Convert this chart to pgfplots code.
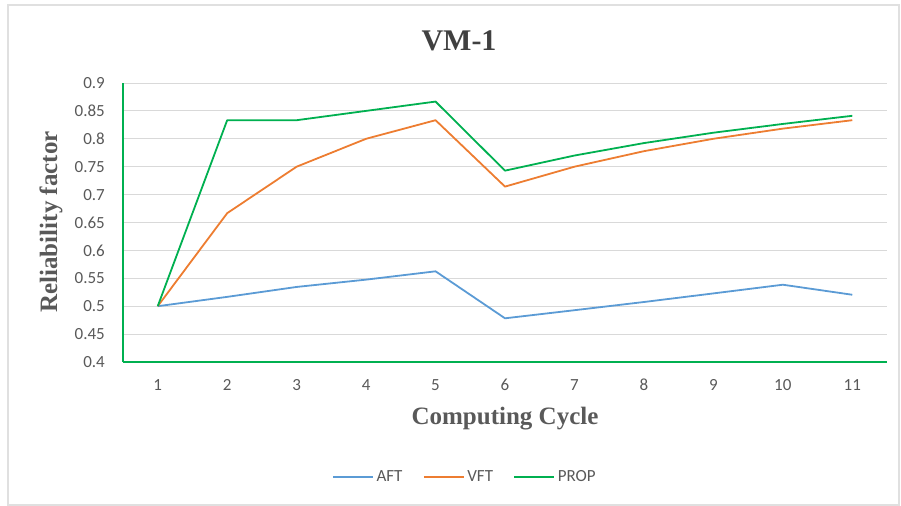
\documentclass[border=0pt]{standalone}
\usepackage{pgfplots}
\pgfplotsset{compat=1.18}
\usepackage{fontspec}
\setmainfont{Liberation Serif}
\newfontfamily\calibri{Carlito}
\definecolor{aft}{HTML}{5B9BD5}
\definecolor{vft}{HTML}{ED7D31}
\definecolor{prop}{HTML}{00B050}
\definecolor{txt}{HTML}{595959}
\definecolor{ttl}{HTML}{404040}
\definecolor{gridc}{HTML}{D9D9D9}
\begin{document}
\begin{tikzpicture}[x=1bp,y=1bp]
\path[use as bounding box] (0,0) rectangle (901,506);
\draw[black!12, line width=1.2bp] (8,1) rectangle (899,501);
\begin{axis}[
  at={(123bp,144bp)}, anchor=south west,
  scale only axis, width=764bp, height=279bp,
  xmin=0.5, xmax=11.5, ymin=0.4, ymax=0.9,
  xtick={1,2,3,4,5,6,7,8,9,10,11},
  xticklabels={1,2,3,4,5,6,7,8,9,10,11},
  ytick={0.4,0.45,0.5,0.55,0.6,0.65,0.7,0.75,0.8,0.85,0.9},
  yticklabels={0.4,0.45,0.5,0.55,0.6,0.65,0.7,0.75,0.8,0.85,0.9},
  /pgf/number format/assume math mode=true,
  axis x line*=bottom, axis y line*=left,
  axis line style={prop, line width=1.3bp, -},
  major tick length=0pt,
  ymajorgrids, grid style={gridc, line width=0.9bp},
  ticklabel style={font=\calibri\fontsize{17bp}{20bp}\selectfont, text=txt, inner sep=0pt},
  xticklabel style={anchor=center, yshift=-23bp},
  yticklabel style={anchor=east, xshift=-18bp},
  legend style={at={(axis description cs:0.448,-0.412)}, anchor=center, draw=none, fill=none,
    legend columns=3, font=\calibri\fontsize{17bp}{20bp}\selectfont, text=txt,
    nodes={inner xsep=2.5bp, inner ysep=1bp},
    /tikz/every even column/.append style={column sep=18bp}},
  legend cell align=left,
  legend image code/.code={\draw[#1] (0bp,0bp) -- (40bp,0bp);},
  every axis plot/.append style={line width=1.8bp, no markers, line join=round},
  clip=false,
]
\addplot[aft] coordinates {(1,0.5) (2,0.5167) (3,0.5345) (4,0.5476) (5,0.5625) (6,0.4783) (7,0.4928) (8,0.5075) (9,0.5229) (10,0.5385) (11,0.5205)};
\addlegendentry{AFT}
\addplot[vft] coordinates {(1,0.5) (2,0.6667) (3,0.75) (4,0.8) (5,0.8333) (6,0.7143) (7,0.75) (8,0.7778) (9,0.8) (10,0.8182) (11,0.8333)};
\addlegendentry{VFT}
\addplot[prop] coordinates {(1,0.5) (2,0.8333) (3,0.8333) (4,0.85) (5,0.8667) (6,0.7429) (7,0.77) (8,0.7923) (9,0.8109) (10,0.8266) (11,0.8412)};
\addlegendentry{PROP}
\end{axis}
\node[font=\bfseries\fontsize{30bp}{34bp}\selectfont, text=ttl] at (459,465) {VM-1};
\node[font=\bfseries\fontsize{25bp}{28bp}\selectfont, text=txt] at (505,87) {Computing Cycle};
\node[font=\bfseries\fontsize{25bp}{28bp}\selectfont, text=txt, rotate=90] at (51,284) {Reliability factor};
\end{tikzpicture}
\end{document}
